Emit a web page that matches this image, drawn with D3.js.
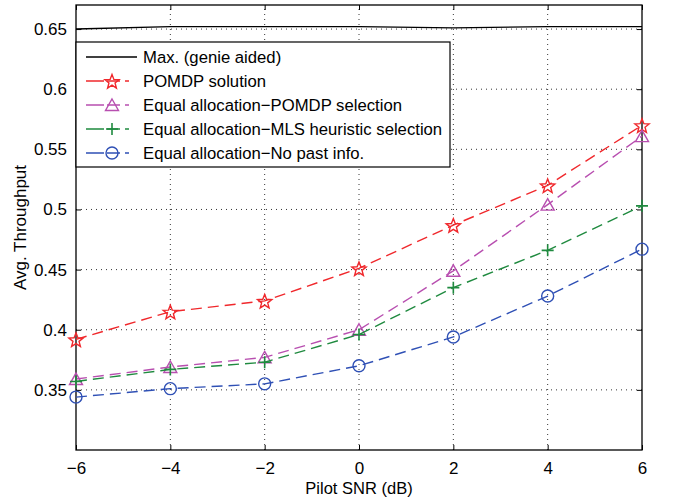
<!DOCTYPE html>
<html>
<head>
<meta charset="utf-8">
<script src="https://cdn.jsdelivr.net/npm/d3@7"></script>
<style>
  body { margin: 0; background: #fff; }
  text { font-family: "Liberation Sans", Arial, sans-serif; }
</style>
</head>
<body>
<div id="grafico"></div>
<script>
const width = 673
const height = 498
const margin = {top: 5, right: 31, bottom: 48, left: 76}

// dados
const snr = [-6, -4, -2, 0, 2, 4, 6]
const maxGenie = [0.650, 0.652, 0.652, 0.652, 0.651, 0.652, 0.652]
const pomdp = [0.392, 0.415, 0.424, 0.451, 0.487, 0.520, 0.570]
const eqPomdp = [0.359, 0.369, 0.377, 0.400, 0.449, 0.504, 0.561]
const eqMls = [0.357, 0.367, 0.373, 0.396, 0.435, 0.466, 0.503]
const eqNoPast = [0.344, 0.351, 0.355, 0.370, 0.394, 0.428, 0.467]
const xTicks = [-6, -4, -2, 0, 2, 4, 6]
const yTicks = [0.35, 0.4, 0.45, 0.5, 0.55, 0.6, 0.65]

const series = [
  {name: 'Max. (genie aided)', values: maxGenie, color: '#000', marker: 'none', dash: null},
  {name: 'POMDP solution', values: pomdp, color: '#f0282c', marker: 'star', dash: '11,6'},
  {name: 'Equal allocation\u2212POMDP selection', values: eqPomdp, color: '#b84fb0', marker: 'triangle', dash: '11,6'},
  {name: 'Equal allocation\u2212MLS heuristic selection', values: eqMls, color: '#1f8a3f', marker: 'plus', dash: '11,6'},
  {name: 'Equal allocation\u2212No past info.', values: eqNoPast, color: '#2f50b5', marker: 'circle', dash: '11,6'}
]

const svg = d3.select('#grafico').append('svg')
              .attr('width', width)
              .attr('height', height)

const x = d3.scaleLinear().domain([-6, 6]).range([margin.left, width - margin.right])
const y = d3.scaleLinear().domain([0.3, 0.67]).range([height - margin.bottom, margin.top])

const x0 = x.range()[0], x1 = x.range()[1]
const y0 = y.range()[0], y1 = y.range()[1]

// grade pontilhada
svg.append('g').selectAll('line').data(xTicks.slice(1, -1)).enter().append('line')
   .attr('x1', d => x(d)).attr('x2', d => x(d)).attr('y1', y0).attr('y2', y1)
   .attr('stroke', '#000').attr('stroke-width', 0.8).attr('stroke-dasharray', '1,4')
svg.append('g').selectAll('line').data(yTicks).enter().append('line')
   .attr('x1', x0).attr('x2', x1).attr('y1', d => y(d)).attr('y2', d => y(d))
   .attr('stroke', '#000').attr('stroke-width', 0.8).attr('stroke-dasharray', '1,4')

// eixos (ticks para dentro)
const axB = svg.append('g').attr('transform', `translate(0,${y0})`)
               .call(d3.axisBottom(x).tickValues(xTicks).tickSizeInner(-5).tickSizeOuter(0).tickPadding(12)
                      .tickFormat(d => d < 0 ? '\u2212' + Math.abs(d) : d))
const axT = svg.append('g').attr('transform', `translate(0,${y1})`)
               .call(d3.axisTop(x).tickValues(xTicks).tickSizeInner(-5).tickSizeOuter(0).tickFormat(''))
const axL = svg.append('g').attr('transform', `translate(${x0},0)`)
               .call(d3.axisLeft(y).tickValues(yTicks).tickSizeInner(-5).tickSizeOuter(0).tickPadding(9)
                      .tickFormat(d3.format('')))
const axR = svg.append('g').attr('transform', `translate(${x1},0)`)
               .call(d3.axisRight(y).tickValues(yTicks).tickSizeInner(-5).tickSizeOuter(0).tickFormat(''))

;[axB, axT, axL, axR].forEach(a => {
  a.select('.domain').remove()
  a.selectAll('line').attr('stroke', '#000')
  a.selectAll('text').attr('fill', '#000').style('font-size', '17px')
})

svg.append('rect').attr('x', x0).attr('y', y1).attr('width', x1 - x0).attr('height', y0 - y1)
   .attr('fill', 'none').attr('stroke', '#000').attr('stroke-width', 1.3)

// linhas
const line = d3.line().x((d, i) => x(snr[i])).y(d => y(d))

function starPath(cx, cy, R, r) {
  const pts = d3.range(10).map(k => {
    const a = -Math.PI / 2 + k * Math.PI / 5
    const rad = k % 2 === 0 ? R : r
    return [cx + rad * Math.cos(a), cy + rad * Math.sin(a)]
  })
  return 'M' + pts.map(p => p.join(',')).join('L') + 'Z'
}

function drawMarker(g, type, color, cx, cy) {
  if (type === 'star') {
    g.append('path').attr('d', starPath(cx, cy + 1, 7.5, 3.2))
     .attr('fill', 'none').attr('stroke', color).attr('stroke-width', 1.4)
  } else if (type === 'triangle') {
    g.append('path').attr('d', `M${cx},${cy - 6}L${cx + 6.5},${cy + 5.5}L${cx - 6.5},${cy + 5.5}Z`)
     .attr('fill', 'none').attr('stroke', color).attr('stroke-width', 1.4)
  } else if (type === 'plus') {
    g.append('path').attr('d', `M${cx - 6},${cy}H${cx + 6}M${cx},${cy - 6}V${cy + 6}`)
     .attr('fill', 'none').attr('stroke', color).attr('stroke-width', 1.6)
  } else if (type === 'circle') {
    g.append('circle').attr('cx', cx).attr('cy', cy).attr('r', 6)
     .attr('fill', 'none').attr('stroke', color).attr('stroke-width', 1.4)
  }
}

series.forEach(s => {
  const g = svg.append('g')
  g.append('path').datum(s.values).attr('d', line)
   .attr('fill', 'none').attr('stroke', s.color).attr('stroke-width', 1.4)
   .attr('stroke-dasharray', s.dash)
  s.values.forEach((v, i) => drawMarker(g, s.marker, s.color, x(snr[i]), y(v)))
})

// legenda
const leg = svg.append('g')
leg.append('rect').attr('x', x0).attr('y', 42).attr('width', 374).attr('height', 125)
   .attr('fill', '#fff').attr('stroke', '#000').attr('stroke-width', 1.2)
series.forEach((s, i) => {
  const ly = 57 + i * 24
  if (s.dash) {
    leg.append('line').attr('x1', 86).attr('x2', 137).attr('y1', ly).attr('y2', ly)
       .attr('stroke', s.color).attr('stroke-width', 1.4).attr('stroke-dasharray', '18,3,13,5,4')
  } else {
    leg.append('line').attr('x1', 86).attr('x2', 137).attr('y1', ly).attr('y2', ly)
       .attr('stroke', s.color).attr('stroke-width', 1.4)
  }
  drawMarker(leg, s.marker, s.color, 112, ly)
  leg.append('text').attr('x', 143).attr('y', ly + 6).text(s.name)
     .style('font-size', '16.7px').attr('fill', '#000')
})

// rotulos dos eixos
svg.append('text').attr('x', (x0 + x1) / 2).attr('y', 494).attr('text-anchor', 'middle')
   .style('font-size', '16.5px').text('Pilot SNR (dB)')
svg.append('text').attr('transform', `translate(26,${(y0 + y1) / 2}) rotate(-90)`).attr('text-anchor', 'middle')
   .style('font-size', '17px').text('Avg. Throughput')
</script>
</body>
</html>
